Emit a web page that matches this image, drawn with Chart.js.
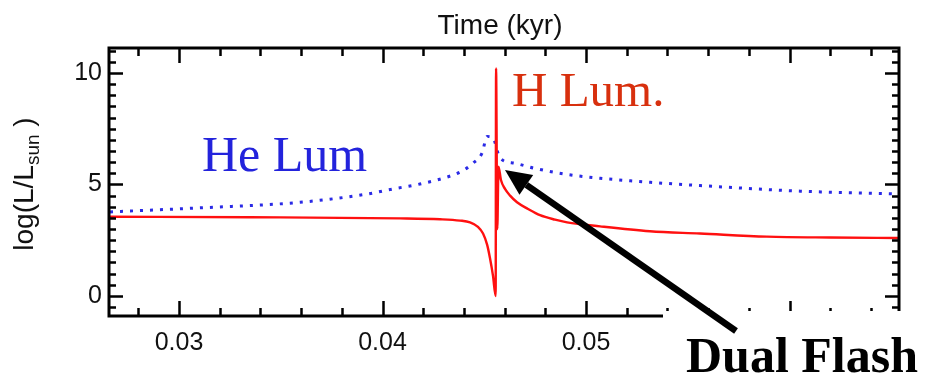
<!DOCTYPE html>
<html>
<head>
<meta charset="utf-8">
<script src="https://cdn.jsdelivr.net/npm/chart.js@4"></script>
<style>
  body { margin: 0; background: #fff; }
  canvas { display: block; }
</style>
</head>
<body>
<canvas id="myChart" width="929" height="375"></canvas>
<script>
// H luminosity (red, solid)
const timeH = [0.02661, 0.03349, 0.04086, 0.04283, 0.04381, 0.0443, 0.04469, 0.04494, 0.04514, 0.04528,
               0.04543, 0.04556, 0.04558, 0.04564, 0.0457, 0.04582, 0.04602, 0.04627, 0.04661, 0.04715,
               0.04774, 0.04848, 0.04907, 0.05069, 0.05314, 0.0556, 0.05889, 0.06199, 0.06538];
const lumH = [3.55, 3.53, 3.48, 3.44, 3.38, 3.3, 3.1, 2.8, 2.3, 1.7,
              0.9, 0.0, 10.2, 3.0, 5.8, 5.2, 4.8, 4.5, 4.2, 3.9,
              3.62, 3.42, 3.3, 3.12, 2.9, 2.8, 2.66, 2.62, 2.6];

// He luminosity (blue, dotted)
const timeHe = [0.02661, 0.03103, 0.03595, 0.03924, 0.04052, 0.04184, 0.04317, 0.04391, 0.04445, 0.04489,
                0.04514, 0.04543, 0.04577, 0.04651, 0.0474, 0.04907, 0.05069, 0.0528, 0.0556, 0.06052, 0.06538];
const lumHe = [3.77, 3.95, 4.2, 4.57, 4.8, 5.02, 5.33, 5.6, 5.96, 6.4,
               7.15, 7.08, 6.19, 5.95, 5.74, 5.45, 5.28, 5.12, 4.95, 4.7, 4.57];

const xTicks = [0.03, 0.04, 0.05, 0.06];
const yTicks = [0, 5, 10];
const xMin = 0.02656, xMax = 0.06538;
const yMin = -0.9, yMax = 11.12;

const pts = (xs, ys) => xs.map((x, i) => ({x: x, y: ys[i]}));

// box, inward ticks on all four sides
const framePlugin = {
  id: 'frame',
  afterDatasetsDraw(chart) {
    const ctx = chart.ctx, a = chart.chartArea;
    const xs = chart.scales.x, ys = chart.scales.y;
    ctx.save();
    ctx.strokeStyle = '#000';
    ctx.lineWidth = 2.5;
    ctx.beginPath();
    for (let v = 0.028; v < xMax; v += 0.002) {
      const major = xTicks.some(t => Math.abs(t - v) < 1e-6);
      const len = major ? 15 : 8;
      const px = Math.round(xs.getPixelForValue(v)) + 0.5;
      ctx.moveTo(px, a.bottom); ctx.lineTo(px, a.bottom - len);
      ctx.moveTo(px, a.top); ctx.lineTo(px, a.top + len);
    }
    for (let v = -0.5; v < yMax; v += 0.5) {
      const major = yTicks.some(t => Math.abs(t - v) < 1e-6);
      const len = major ? 14 : 7;
      const py = Math.round(ys.getPixelForValue(v)) + 0.5;
      ctx.moveTo(a.left, py); ctx.lineTo(a.left + len, py);
      ctx.moveTo(a.right, py); ctx.lineTo(a.right - len, py);
    }
    ctx.stroke();
    ctx.lineWidth = 3;
    ctx.strokeRect(a.left, a.top, a.right - a.left, a.bottom - a.top);
    ctx.restore();
  },
  afterDraw(chart) {
    const ctx = chart.ctx;
    ctx.save();
    // top title
    ctx.fillStyle = '#111';
    ctx.font = '28px "Liberation Sans"';
    ctx.textAlign = 'center';
    ctx.textBaseline = 'alphabetic';
    ctx.fillText('Time (kyr)', 500, 34);

    // y title with subscript
    ctx.save();
    ctx.translate(33, 184);
    ctx.rotate(-Math.PI / 2);
    ctx.textAlign = 'left';
    const big = '28px "Liberation Sans"', small = '19px "Liberation Sans"';
    ctx.font = big; const w1 = ctx.measureText('log(L/L').width;
    ctx.font = small; const w2 = ctx.measureText('sun').width;
    ctx.font = big; const w3 = ctx.measureText(' )').width;
    let x0 = -(w1 + w2 + w3) / 2;
    ctx.font = big; ctx.fillText('log(L/L', x0, 0);
    ctx.font = small; ctx.fillText('sun', x0 + w1, 6);
    ctx.font = big; ctx.fillText(' )', x0 + w1 + w2, 0);
    ctx.restore();

    // labels
    ctx.textAlign = 'left';
    ctx.font = '50px "Liberation Serif"';
    ctx.fillStyle = '#2323dc';
    ctx.fillText('He Lum', 202, 171);
    ctx.font = '49px "Liberation Serif"';
    ctx.fillStyle = '#d8300e';
    ctx.fillText('H Lum.', 512, 106);

    // white box behind "Dual Flash"
    ctx.fillStyle = '#fff';
    ctx.fillRect(663, 311, 929 - 663, 375 - 311);

    // arrow
    const tx = 505, ty = 170, sx = 736, sy = 331;
    const ang = Math.atan2(sy - ty, sx - tx);
    const hl = 26, hw = 12;
    const bx = tx + Math.cos(ang) * hl, by = ty + Math.sin(ang) * hl;
    ctx.strokeStyle = '#000';
    ctx.lineWidth = 6.5;
    ctx.beginPath();
    ctx.moveTo(sx, sy); ctx.lineTo(bx, by);
    ctx.stroke();
    ctx.fillStyle = '#000';
    ctx.beginPath();
    ctx.moveTo(tx, ty);
    ctx.lineTo(bx - Math.sin(ang) * hw, by + Math.cos(ang) * hw);
    ctx.lineTo(bx + Math.sin(ang) * hw, by - Math.cos(ang) * hw);
    ctx.closePath();
    ctx.fill();

    ctx.font = 'bold 50px "Liberation Serif"';
    ctx.fillText('Dual Flash', 686, 372);
    ctx.restore();
  }
};

new Chart(document.getElementById('myChart').getContext('2d'), {
  type: 'line',
  data: {
    datasets: [
      {
        label: 'H Lum.',
        data: pts(timeH, lumH),
        borderColor: '#ff1010',
        borderWidth: 2.4,
        pointRadius: 0,
        cubicInterpolationMode: 'monotone',
        fill: false
      },
      {
        label: 'He Lum',
        data: pts(timeHe, lumHe),
        borderColor: '#2a2ae6',
        borderWidth: 3,
        borderDash: [3, 7],
        pointRadius: 0,
        cubicInterpolationMode: 'monotone',
        fill: false
      }
    ]
  },
  options: {
    responsive: false,
    animation: false,
    devicePixelRatio: 1,
    layout: { padding: { top: 48, right: 30, left: 0, bottom: 0 } },
    plugins: { legend: { display: false }, tooltip: { enabled: false } },
    scales: {
      x: {
        type: 'linear',
        min: xMin,
        max: xMax,
        afterBuildTicks: s => { s.ticks = xTicks.map(v => ({value: v})); },
        afterFit: s => { s.height = 59; },
        grid: { display: false, drawTicks: false },
        border: { display: false },
        ticks: {
          autoSkip: false,
          maxRotation: 0,
          padding: 12,
          color: '#111',
          font: { family: 'Liberation Sans', size: 25 },
          callback: v => v.toFixed(2)
        }
      },
      y: {
        type: 'linear',
        min: yMin,
        max: yMax,
        afterBuildTicks: s => { s.ticks = yTicks.map(v => ({value: v})); },
        afterFit: s => { s.width = 109; },
        grid: { display: false, drawTicks: false },
        border: { display: false },
        ticks: {
          autoSkip: false,
          padding: 7,
          color: '#111',
          font: { family: 'Liberation Sans', size: 25 },
          callback: v => String(v)
        }
      }
    }
  },
  plugins: [framePlugin]
});
</script>
</body>
</html>
